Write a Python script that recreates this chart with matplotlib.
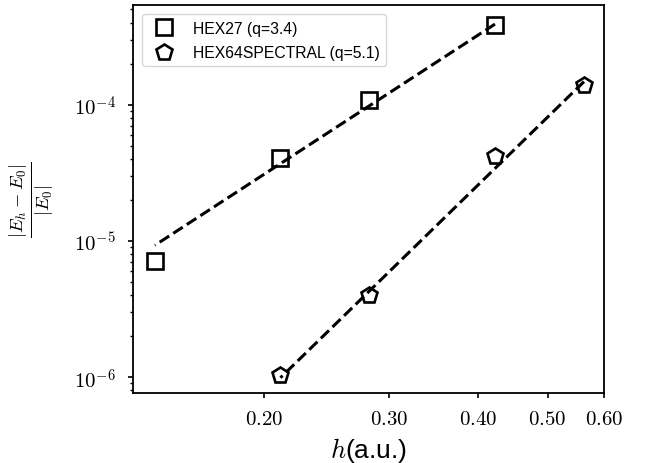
import numpy as np
import matplotlib
matplotlib.use('Agg')
import matplotlib.pyplot as plt
from matplotlib.ticker import FuncFormatter, NullLocator

plt.rcParams['font.family'] = ['Liberation Sans', 'DejaVu Sans']
plt.rcParams['mathtext.fontset'] = 'cm'

# HEX27 data
h27 = np.array([0.140625, 0.2109375, 0.28125, 0.421875])
err27 = np.array([7.14e-6, 4.07e-5, 1.09e-4, 3.85e-4])
q27 = 3.4
logc27 = -2.135

# HEX64SPECTRAL data
h64 = np.array([0.2109375, 0.28125, 0.421875, 0.5625])
err64 = np.array([1.03e-6, 4.01e-6, 4.17e-5, 1.40e-4])
q64 = 5.1
logc64 = -2.557

xticks = [0.2, 0.3, 0.4, 0.5, 0.6]

fig = plt.figure(figsize=(6.47, 4.64), dpi=100)
ax = fig.add_axes([0.2056, 0.1498, 0.7279, 0.8375])

# fitted lines (drawn right to left)
hh = h27[::-1]
ax.plot(hh, 10**logc27 * hh**q27, '--', color='k', lw=2.2)
hh = h64[::-1]
ax.plot(hh, 10**logc64 * hh**q64, '--', color='k', lw=2.2)

ax.plot(h27, err27, 's', ms=12, mfc='none', mec='k', mew=1.9, ls='none',
        label='HEX27 (q=%.1f)' % q27)
ax.plot(h64, err64, 'p', ms=12, mfc='none', mec='k', mew=1.9, ls='none',
        label='HEX64SPECTRAL (q=%.1f)' % q64)

ax.set_xscale('log')
ax.set_yscale('log')
ax.set_xlim(0.131, 0.6)
ax.set_ylim(7.6e-7, 5.39e-4)

ax.set_xticks(xticks)
ax.xaxis.set_minor_locator(NullLocator())
ax.xaxis.set_major_formatter(FuncFormatter(lambda v, p: r'$%.2f$' % v))
ax.yaxis.set_major_formatter(FuncFormatter(lambda v, p: r'$10^{%d}$' % round(np.log10(v))))
ax.tick_params(labelsize=15, width=1.2)
ax.tick_params(axis='x', pad=8)
ax.tick_params(axis='y', pad=9)
ax.tick_params(which='minor', width=1.0)
for s in ax.spines.values():
    s.set_linewidth(1.3)

ax.set_xlabel(r'$h$(a.u.)', fontsize=19, labelpad=5)
ax.set_ylabel(r'$\frac{|E_h - E_0|}{|E_0|}$', fontsize=19)
ax.yaxis.set_label_coords(-0.163, 0.5)
ax.legend(loc='upper left', fontsize=11.3, handletextpad=0.8,
          labelspacing=0.6, borderaxespad=0.6)

plt.savefig('out.png')
